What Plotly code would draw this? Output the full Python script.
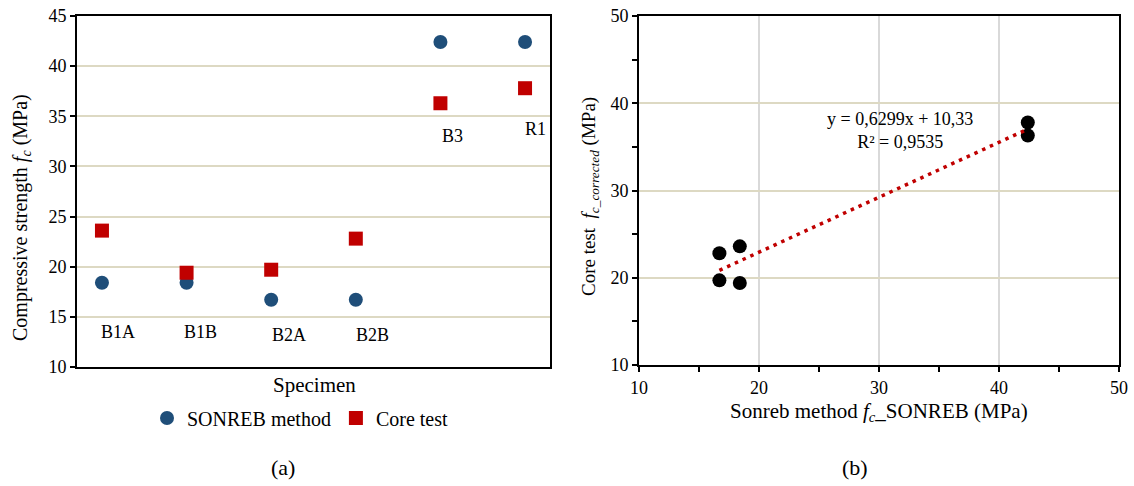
import plotly.graph_objects as go

# ---- data ----
specimens = ["B1A", "B1B", "B2A", "B2B", "B3", "R1"]
sonreb = [18.4, 18.4, 16.7, 16.7, 42.4, 42.4]
core = [23.6, 19.4, 19.7, 22.8, 36.3, 37.8]
left_yticks = [10, 15, 20, 25, 30, 35, 40, 45]
right_ticks = [10, 20, 30, 40, 50]
trend_slope = 0.6299
trend_intercept = 10.33
trend_r2 = 0.9535

FONT = "Liberation Serif"
W, H = 1134, 486
BLUE = "#1f4e79"
RED = "#c00000"
BEIGE = "#ddd9c3"
GRAY = "#d9d9d9"

xi = list(range(1, len(specimens) + 1))

fig = go.Figure()

# ---- panel (a) ----
fig.add_trace(go.Scatter(x=xi, y=sonreb, mode="markers", name="SONREB method",
                         marker=dict(symbol="circle", size=14, color=BLUE),
                         xaxis="x", yaxis="y"))
fig.add_trace(go.Scatter(x=xi, y=core, mode="markers", name="Core test",
                         marker=dict(symbol="square", size=14, color=RED),
                         xaxis="x", yaxis="y"))

# ---- panel (b) ----
fig.add_trace(go.Scatter(x=sonreb, y=core, mode="markers", showlegend=False,
                         marker=dict(symbol="circle", size=14, color="black"),
                         xaxis="x2", yaxis="y2"))
xs = [min(sonreb), max(sonreb)]
fig.add_trace(go.Scatter(x=xs, y=[trend_slope * v + trend_intercept for v in xs],
                         mode="lines", showlegend=False,
                         line=dict(color=RED, width=3.5, dash="3.5px,5px"),
                         xaxis="x2", yaxis="y2"))


def px_x(p):
    return p / W


def px_y(p):
    return 1 - p / H


axis_common = dict(showline=True, linecolor="black", linewidth=2, mirror=True,
                   tickfont=dict(family=FONT, size=18, color="black"),
                   zeroline=False, automargin=False)

fig.update_layout(
    width=W, height=H, margin=dict(l=0, r=0, t=0, b=0, autoexpand=False),
    paper_bgcolor="white", plot_bgcolor="white",
    font=dict(family=FONT, size=17, color="black"),
    xaxis=dict(domain=[px_x(77), px_x(550)], range=[0.705, 6.295],
               showticklabels=False, showgrid=False, ticks="", **axis_common),
    yaxis=dict(domain=[px_y(367), px_y(16)], range=[10, 45], tickvals=left_yticks,
               ticks="outside", ticklen=5, tickwidth=2, tickcolor="black",
               showgrid=True, gridcolor=BEIGE, gridwidth=2, anchor="x", **axis_common),
    xaxis2=dict(domain=[px_x(639), px_x(1119)], range=[10, 50], tickvals=right_ticks,
                ticks="outside", ticklen=5, tickwidth=2, tickcolor="black",
                minor=dict(dtick=5, ticks="outside", ticklen=5, tickwidth=2,
                           tickcolor="black", showgrid=False),
                showgrid=True, gridcolor=GRAY, gridwidth=2, anchor="y2", **axis_common),
    yaxis2=dict(domain=[px_y(365), px_y(16)], range=[10, 50], tickvals=right_ticks,
                ticks="outside", ticklen=5, tickwidth=2, tickcolor="black",
                minor=dict(dtick=5, ticks="outside", ticklen=5, tickwidth=2,
                           tickcolor="black", showgrid=False),
                showgrid=True, gridcolor=BEIGE, gridwidth=2, anchor="x2", **axis_common),
    legend=dict(orientation="h", x=px_x(300), y=px_y(418), xanchor="center", yanchor="middle",
                font=dict(family=FONT, size=20, color="black"), bgcolor="rgba(0,0,0,0)",
                itemwidth=30, tracegroupgap=0),
    showlegend=True,
)

ann = []


def add_ann(x, y, text, size, xref="paper", yref="paper", angle=0):
    ann.append(dict(x=x, y=y, xref=xref, yref=yref, text=text, showarrow=False,
                    xanchor="center", yanchor="middle", textangle=angle,
                    font=dict(family=FONT, size=size, color="black")))


# category labels (offset from points)
label_dx = [0.19, 0.17, 0.21, 0.2, 0.14, 0.12]
label_y = [13.5, 13.5, 13.2, 13.2, 33.0, 33.7]
for i, name in enumerate(specimens):
    add_ann(xi[i] + label_dx[i], label_y[i], name, 18, xref="x", yref="y")

# axis titles
add_ann(px_x(314), px_y(385), "Specimen", 21)
add_ann(px_x(21), px_y(218), "Compressive strength <i>f</i><sub><i>c</i></sub> (MPa)", 20, angle=-90)
add_ann(px_x(590), px_y(197), "Core test  <i>f</i><sub><i>c_corrected</i></sub> (MPa)", 19, angle=-90)
add_ann(px_x(879), px_y(412), "Sonreb method <i>f</i><sub><i>c</i></sub>_SONREB (MPa)", 21)
# equation
eq_text = (f"y = {trend_slope:.4f}x + {trend_intercept:.2f}".replace(".", ",") + "<br>"
           + f"R² = {trend_r2:.4f}".replace(".", ","))
add_ann(px_x(900), px_y(131), eq_text, 18)
# panel labels
add_ann(px_x(283), px_y(467), "(a)", 22)
add_ann(px_x(855), px_y(467), "(b)", 22)

fig.update_layout(annotations=ann)
fig.write_html("out.html", config={"displayModeBar": False},
               post_script="document.body.style.margin='0';document.body.style.padding='0';")
